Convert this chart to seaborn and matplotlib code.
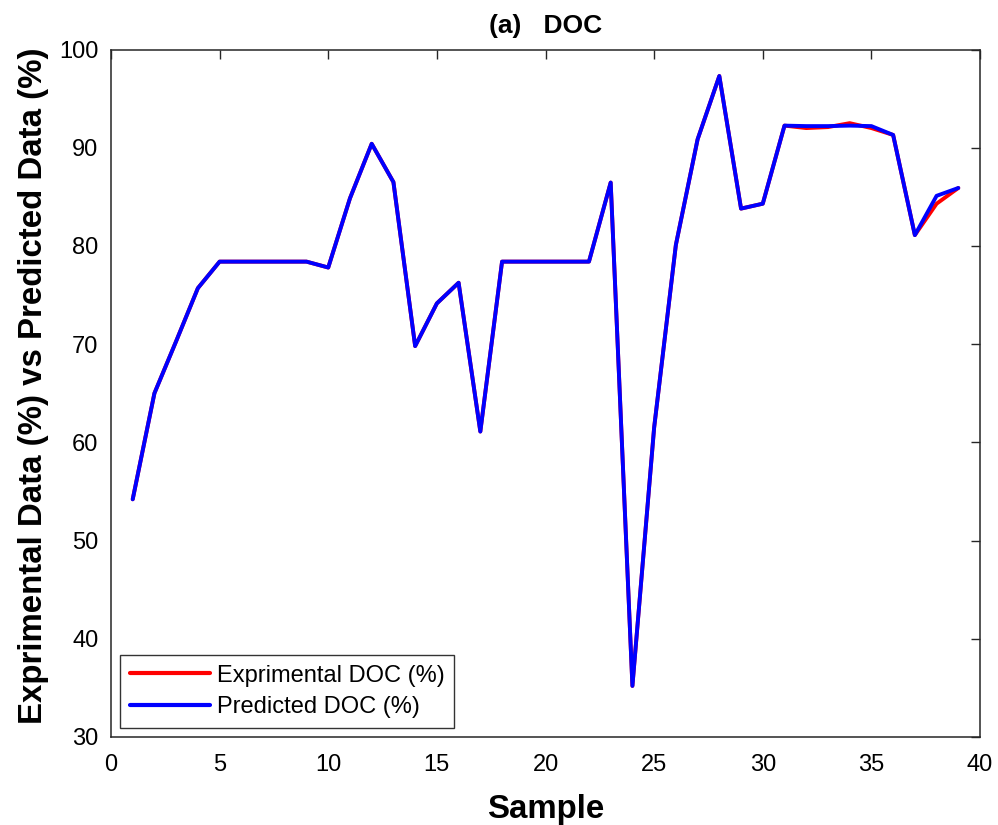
import matplotlib
matplotlib.use("Agg")
import matplotlib.pyplot as plt
import seaborn as sns
import pandas as pd

# Sample index and DOC removal values (%)
samples = list(range(1, 40))
experimental = [54.2, 65.0, 70.3, 75.7, 78.4, 78.4, 78.4, 78.4, 78.4, 77.8,
                84.85, 90.4, 86.5, 69.8, 74.15, 76.25, 61.1, 78.4, 78.4, 78.4,
                78.4, 78.4, 86.45, 35.2, 61.5, 80.1, 90.85, 97.3, 83.8, 84.3,
                92.25, 92.0, 92.1, 92.5, 92.0, 91.3, 81.1, 84.3, 85.9]
predicted = [54.2, 65.0, 70.3, 75.7, 78.4, 78.4, 78.4, 78.4, 78.4, 77.8,
             84.85, 90.4, 86.5, 69.8, 74.15, 76.25, 61.1, 78.4, 78.4, 78.4,
             78.4, 78.4, 86.45, 35.2, 61.5, 80.1, 90.85, 97.3, 83.8, 84.3,
             92.25, 92.2, 92.2, 92.25, 92.2, 91.3, 81.1, 85.1, 85.9]
series_names = ["Exprimental DOC (%)", "Predicted DOC (%)"]
x_ticks = [0, 5, 10, 15, 20, 25, 30, 35, 40]
y_ticks = [30, 40, 50, 60, 70, 80, 90, 100]

df = pd.DataFrame({
    "Sample": samples * 2,
    "DOC": experimental + predicted,
    "Series": [series_names[0]] * len(samples) + [series_names[1]] * len(samples),
})

sns.set_style("white")
plt.rcParams["font.family"] = ["Liberation Sans", "DejaVu Sans"]
plt.rcParams["text.color"] = "black"
plt.rcParams["axes.labelcolor"] = "black"
plt.rcParams["axes.edgecolor"] = "#262626"
plt.rcParams["xtick.color"] = "#262626"
plt.rcParams["ytick.color"] = "#262626"
plt.rcParams["xtick.labelcolor"] = "black"
plt.rcParams["ytick.labelcolor"] = "black"

fig = plt.figure(figsize=(9.98, 8.25), dpi=100)
ax = fig.add_axes([0.1112, 0.1067, 0.8708, 0.8333])

sns.lineplot(data=df, x="Sample", y="DOC", hue="Series",
             palette={series_names[0]: "#ff0000", series_names[1]: "#0000ff"},
             linewidth=2.8, ax=ax, legend=True)

ax.set_xlim(0, 40)
ax.set_ylim(30, 100)
ax.set_xticks(x_ticks)
ax.set_yticks(y_ticks)
ax.tick_params(direction="in", length=6.5, width=1.0, labelsize=17,
               top=True, right=True)
ax.tick_params(axis="x", pad=12)
ax.tick_params(axis="y", pad=9)
for s in ax.spines.values():
    s.set_visible(True)
    s.set_linewidth(1.1)
    s.set_color("#262626")

ax.set_xlabel("Sample", fontsize=23.8, fontweight="bold", labelpad=13)
ax.set_ylabel("Exprimental Data (%) vs Predicted Data (%)", fontsize=23.8,
              fontweight="bold")
ax.yaxis.set_label_coords(-0.071, 0.511)
ax.set_title("(a)   DOC", fontsize=19, fontweight="bold", pad=12)

leg = ax.legend(loc="lower left", fontsize=17, frameon=True, fancybox=False,
                handlelength=3.4, handletextpad=0.3, borderpad=0.4,
                labelspacing=0.4, borderaxespad=0.4)
leg.get_frame().set_edgecolor("black")
leg.get_frame().set_linewidth(1.0)
for line in leg.get_lines():
    line.set_linewidth(3.0)

fig.savefig("out.png", dpi=100)
